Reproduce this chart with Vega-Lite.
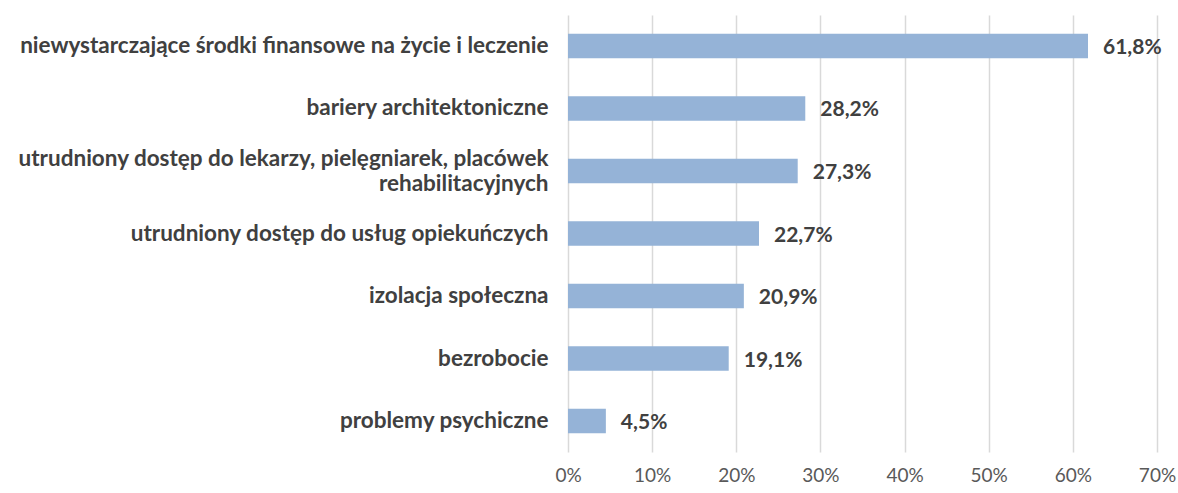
{
  "$schema": "https://vega.github.io/schema/vega-lite/v6.json",
  "width": 589,
  "height": 437,
  "autosize": {"type": "none"},
  "padding": {"left": 568, "top": 15, "right": 21, "bottom": 41},
  "config": {
    "locale": {"number": {"decimal": ",", "thousands": " ", "grouping": [3], "currency": ["", " zł"]}},
    "view": {"stroke": null},
    "font": "Lato"
  },
  "data": {
    "values": [
      {"kategoria": "niewystarczające środki finansowe na życie i leczenie", "wartosc": 0.618},
      {"kategoria": "bariery architektoniczne", "wartosc": 0.282},
      {"kategoria": "utrudniony dostęp do lekarzy, pielęgniarek, placówek rehabilitacyjnych", "wartosc": 0.273},
      {"kategoria": "utrudniony dostęp do usług opiekuńczych", "wartosc": 0.227},
      {"kategoria": "izolacja społeczna", "wartosc": 0.209},
      {"kategoria": "bezrobocie", "wartosc": 0.191},
      {"kategoria": "problemy psychiczne", "wartosc": 0.045}
    ]
  },
  "encoding": {
    "y": {
      "field": "kategoria",
      "type": "nominal",
      "sort": null,
      "scale": {"paddingInner": 0.61, "paddingOuter": 0.3},
      "axis": {
        "title": null,
        "domain": false,
        "ticks": false,
        "labelPadding": 20,
        "labelFont": "Lato",
        "labelFontSize": 22.5,
        "labelFontWeight": "bold",
        "labelColor": "#404040",
        "labelLimit": 600,
        "labelLineHeight": 25,
        "labelOffset": {"condition": {"test": "indexof(datum.value, 'lekarzy') >= 0", "value": -12}, "value": 0},
        "labelExpr": "datum.label == 'utrudniony dostęp do lekarzy, pielęgniarek, placówek rehabilitacyjnych' ? ['utrudniony dostęp do lekarzy, pielęgniarek, placówek', 'rehabilitacyjnych'] : datum.label"
      }
    },
    "x": {
      "field": "wartosc",
      "type": "quantitative",
      "scale": {"domain": [0, 0.7], "nice": false},
      "axis": {
        "title": null,
        "format": ".0%",
        "values": [0, 0.1, 0.2, 0.3, 0.4, 0.5, 0.6, 0.7],
        "domain": false,
        "ticks": false,
        "grid": true,
        "gridColor": "#d9d9d9",
        "gridWidth": 1.5,
        "labelPadding": 14,
        "labelFont": "Lato",
        "labelFontSize": 19,
        "labelColor": "#595959",
        "labelFlush": false
      }
    }
  },
  "layer": [
    {
      "mark": {"type": "bar", "color": "#95b3d7"}
    },
    {
      "mark": {"type": "text", "align": "left", "baseline": "middle", "dx": 15, "dy": 2, "fontSize": 21, "fontWeight": "bold", "color": "#404040", "font": "Lato"},
      "encoding": {
        "text": {"field": "wartosc", "type": "quantitative", "format": ".1%"}
      }
    }
  ]
}
